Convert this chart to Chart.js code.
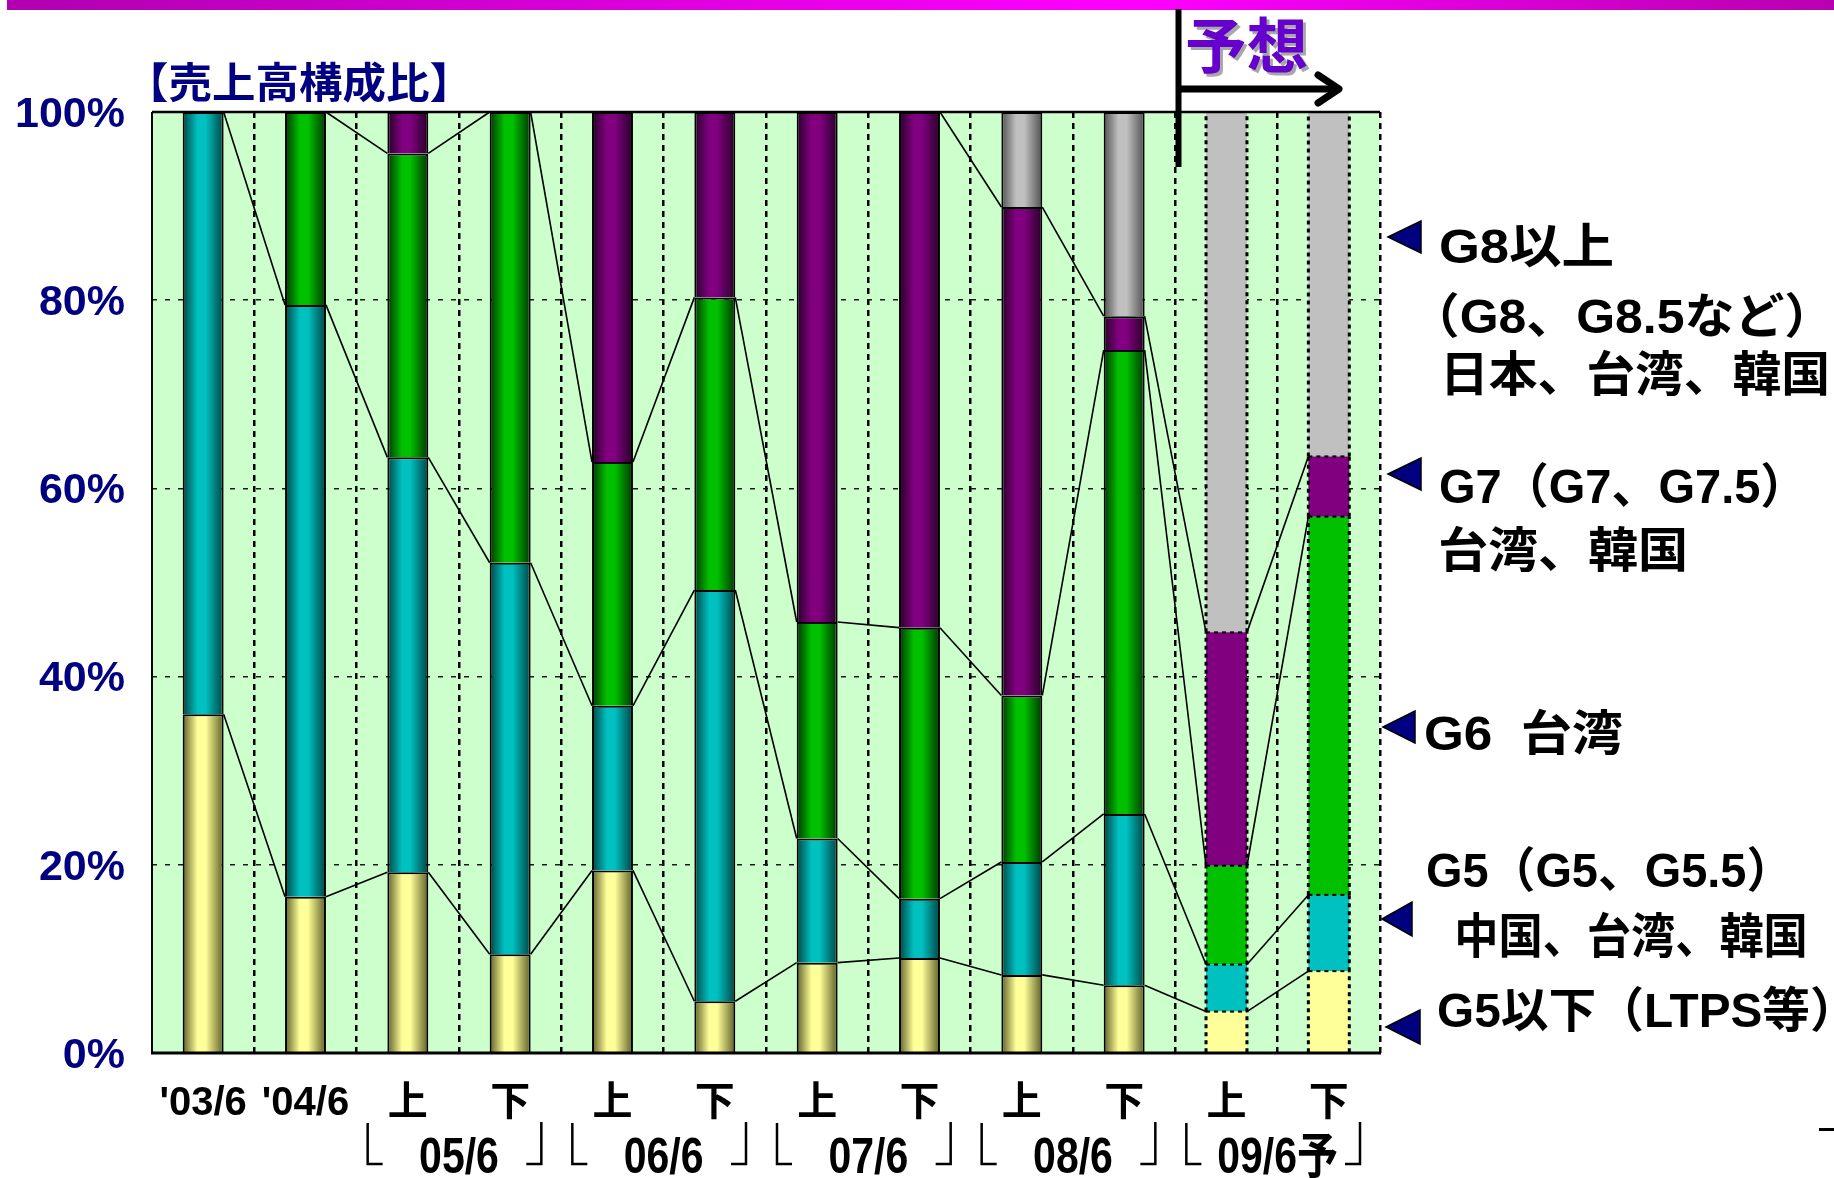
<!DOCTYPE html>
<html>
<head>
<meta charset="utf-8">
<script src="https://cdn.jsdelivr.net/npm/chart.js@4.4.1/dist/chart.umd.min.js"></script>
<style>
  html, body { margin: 0; padding: 0; background: #ffffff; }
  canvas { display: block; }
</style>
</head>
<body>
<canvas id="c" width="1834" height="1178"></canvas>
<script>
// Half-year periods and fiscal-year groups
const periods = ["'03/6", "'04/6", "上", "下", "上", "下", "上", "下", "上", "下", "上", "下"];
const fiscalGroups = ["05/6", "06/6", "07/6", "08/6", "09/6予"];

// Sales share (%) by panel generation, bottom to top of each stack
const g5Below = [36.0, 16.6, 19.2, 10.5, 19.4, 5.5, 9.6, 10.1, 8.3, 7.2, 4.4, 8.7];
const g5      = [64.0, 62.9, 44.1, 41.6, 17.5, 43.7, 13.2, 6.3, 12.0, 18.2, 5.0, 8.1];
const g6      = [0, 20.5, 32.3, 47.9, 25.9, 31.1, 23.0, 28.8, 17.7, 49.3, 10.5, 40.2];
const g7      = [0, 0, 4.4, 0, 37.2, 19.7, 54.2, 54.8, 51.9, 3.6, 24.8, 6.4];
const g8Up    = [0, 0, 0, 0, 0, 0, 0, 0, 10.1, 21.7, 55.3, 36.6];

const yTickValues = [0, 20, 40, 60, 80, 100];
const forecastFrom = 10;   // first forecast period (09/6 上)

const seriesNames = ["G5以下", "G5", "G6", "G7", "G8以上"];
const seriesData = [g5Below, g5, g6, g7, g8Up];
const bright = ["#ffff99", "#00c0c0", "#00c000", "#800080", "#c0c0c0"];
const shade  = ["#5e5e26", "#004444", "#003600", "#260026", "#505050"];

const FONT = "'Liberation Sans', 'Noto Sans CJK JP', sans-serif";
const BAR_PCT = 0.4;

// Cumulative top of each series in each period
const cumulative = seriesData.map((_, s) =>
  periods.map((__, i) => seriesData.slice(0, s + 1).reduce((a, arr) => a + arr[i], 0)));

// Draws text so that its ink starts at `left`, is centred on `cy`,
// and (optionally) spans `width` pixels horizontally.
function inkText(ctx, text, left, cy, font, color, width) {
  ctx.save();
  ctx.font = font;
  ctx.fillStyle = color;
  ctx.textAlign = 'left';
  ctx.textBaseline = 'alphabetic';
  const m = ctx.measureText(text);
  const ink = m.actualBoundingBoxLeft + m.actualBoundingBoxRight;
  let sx = 1;
  if (width) sx = Math.max(0.85, Math.min(1.15, width / ink));
  const y = cy + (m.actualBoundingBoxAscent - m.actualBoundingBoxDescent) / 2;
  ctx.translate(left, y);
  ctx.scale(sx, 1);
  ctx.fillText(text, m.actualBoundingBoxLeft, 0);
  ctx.restore();
}

const notes = [
  { text: "G8以上", x: 1440, y: 245, w: 172 },
  { text: "（G8、G8.5など）", x: 1442, y: 315, w: 360 },
  { text: "日本、台湾、韓国", x: 1447, y: 373, w: 380 },
  { text: "G7（G7、G7.5）", x: 1440, y: 485, w: 337 },
  { text: "台湾、韓国", x: 1440, y: 549, w: 245 },
  { text: "G6  台湾", x: 1425, y: 732, w: 197 },
  { text: "G5（G5、G5.5）", x: 1427, y: 869, w: 336 },
  { text: "中国、台湾、韓国", x: 1458, y: 935, w: 347 },
  { text: "G5以下（LTPS等）", x: 1438, y: 1009, w: 389 }
];
const pointers = [
  { tip: 1388, back: 1421, y: 237, h: 16 },
  { tip: 1388, back: 1421, y: 474, h: 16 },
  { tip: 1383, back: 1415, y: 727, h: 16 },
  { tip: 1382, back: 1412, y: 919, h: 17 },
  { tip: 1386, back: 1420, y: 1027, h: 17 }
];

const decorations = {
  id: 'decorations',
  beforeDraw(chart) {
    const { ctx, chartArea: a } = chart;
    ctx.save();
    ctx.fillStyle = '#ffffff';
    ctx.fillRect(0, 0, chart.width, chart.height);
    ctx.fillStyle = '#ccffcc';
    ctx.fillRect(a.left, a.top, a.right - a.left, a.bottom - a.top);
    ctx.restore();
  },
  beforeDatasetsDraw(chart) {
    // cylinder-like horizontal shading on the actual-result columns
    const { ctx } = chart;
    seriesData.forEach((_, s) => {
      chart.getDatasetMeta(s).data.forEach((el, i) => {
        if (i >= forecastFrom) return;
        const g = ctx.createLinearGradient(el.x - el.width / 2, 0, el.x + el.width / 2, 0);
        g.addColorStop(0, shade[s]);
        g.addColorStop(0.36, bright[s]);
        g.addColorStop(0.56, bright[s]);
        g.addColorStop(1, shade[s]);
        el.options = Object.assign({}, el.options, { backgroundColor: g });
      });
    });
  },
  afterDatasetsDraw(chart) {
    const { ctx } = chart;
    const ys = chart.scales.y;
    ctx.save();
    // series lines between neighbouring columns
    ctx.strokeStyle = '#000';
    ctx.lineWidth = 1.6;
    seriesData.forEach((_, s) => {
      const meta = chart.getDatasetMeta(s);
      for (let i = 0; i < periods.length - 1; i++) {
        const a = meta.data[i], b = meta.data[i + 1];
        ctx.beginPath();
        ctx.moveTo(a.x + a.width / 2, ys.getPixelForValue(cumulative[s][i]));
        ctx.lineTo(b.x - b.width / 2, ys.getPixelForValue(cumulative[s][i + 1]));
        ctx.stroke();
      }
    });
    // dashed outlines on forecast columns
    seriesData.forEach((arr, s) => {
      const meta = chart.getDatasetMeta(s);
      for (let i = forecastFrom; i < periods.length; i++) {
        if (!(arr[i] > 0)) continue;
        const el = meta.data[i];
        const l = el.x - el.width / 2, r = el.x + el.width / 2;
        ctx.setLineDash([4, 4]);
        ctx.lineWidth = 3;
        ctx.beginPath();
        ctx.moveTo(l, el.base); ctx.lineTo(l, el.y);
        ctx.moveTo(r, el.base); ctx.lineTo(r, el.y);
        ctx.stroke();
        ctx.lineWidth = 2;
        ctx.beginPath();
        ctx.moveTo(l, el.y); ctx.lineTo(r, el.y);
        ctx.stroke();
      }
    });
    ctx.restore();
  },
  afterDraw(chart) {
    const { ctx, chartArea: a } = chart;
    const xs = chart.scales.x;
    ctx.save();

    // plot frame
    ctx.strokeStyle = '#000';
    ctx.lineWidth = 2.5;
    ctx.beginPath(); ctx.moveTo(a.left, a.top); ctx.lineTo(a.right, a.top); ctx.stroke();
    ctx.lineWidth = 2;
    ctx.beginPath(); ctx.moveTo(a.left, a.top); ctx.lineTo(a.left, a.bottom); ctx.stroke();
    ctx.lineWidth = 3;
    ctx.beginPath(); ctx.moveTo(a.left - 1, a.bottom); ctx.lineTo(a.right + 1, a.bottom); ctx.stroke();

    // header band
    const band = ctx.createLinearGradient(7, 0, chart.width, 0);
    band.addColorStop(0, '#b000b0');
    band.addColorStop(0.62, '#ff00ff');
    band.addColorStop(1, '#b800b0');
    ctx.fillStyle = band;
    ctx.fillRect(7, 0, chart.width - 7, 10);

    // chart caption
    inkText(ctx, '【売上高構成比】', 153, 82, `bold 42px ${FONT}`, '#000080', 292);

    // forecast marker
    ctx.save();
    ctx.shadowColor = '#a8a8a8';
    ctx.shadowOffsetX = 3;
    ctx.shadowOffsetY = 3;
    inkText(ctx, '予想', 1187, 45, `bold 60px 'Noto Sans CJK JP', sans-serif`, '#6600cc', 120);
    ctx.restore();
    ctx.strokeStyle = '#000';
    ctx.lineWidth = 6;
    ctx.beginPath(); ctx.moveTo(1178.5, 9); ctx.lineTo(1178.5, 167); ctx.stroke();
    ctx.lineWidth = 7;
    ctx.beginPath(); ctx.moveTo(1178, 89); ctx.lineTo(1336, 89); ctx.stroke();
    ctx.lineCap = 'round'; ctx.lineJoin = 'round';
    ctx.beginPath(); ctx.moveTo(1318, 75); ctx.lineTo(1339, 89); ctx.lineTo(1318, 103); ctx.stroke();
    ctx.lineCap = 'butt'; ctx.lineJoin = 'miter';

    // generation pointers and notes
    pointers.forEach(p => {
      ctx.beginPath();
      ctx.moveTo(p.tip, p.y);
      ctx.lineTo(p.back, p.y - p.h);
      ctx.lineTo(p.back, p.y + p.h);
      ctx.closePath();
      ctx.fillStyle = '#000080';
      ctx.fill();
      ctx.lineWidth = 1.5;
      ctx.strokeStyle = '#000';
      ctx.stroke();
    });
    notes.forEach(n => inkText(ctx, n.text, n.x, n.y, `bold 48px ${FONT}`, '#000', n.w));

    // fiscal-year group labels with corner brackets
    const catW = xs.width / periods.length;
    fiscalGroups.forEach((label, g) => {
      const i0 = 2 * g + 2, i1 = 2 * g + 3;
      const left = xs.getPixelForValue(i0) - catW / 2;
      const right = xs.getPixelForValue(i1) + catW / 2;
      const cx = (left + right) / 2;
      ctx.save();
      ctx.translate(cx, 1173);
      ctx.scale(1, 1.2);
      ctx.font = `bold 41px ${FONT}`;
      ctx.fillStyle = '#000';
      ctx.textAlign = 'center';
      ctx.textBaseline = 'alphabetic';
      ctx.fillText(label, 0, 0);
      ctx.restore();
      ctx.strokeStyle = '#000';
      ctx.lineWidth = 2.5;
      ctx.beginPath();
      ctx.moveTo(left + 11, 1123); ctx.lineTo(left + 11, 1164); ctx.lineTo(left + 26, 1164);
      ctx.stroke();
      ctx.beginPath();
      ctx.moveTo(right - 35, 1164); ctx.lineTo(right - 20, 1164); ctx.lineTo(right - 20, 1122);
      ctx.stroke();
    });

    ctx.fillStyle = '#000';
    ctx.fillRect(1819, 1128, 15, 3);
    ctx.restore();
  }
};

new Chart(document.getElementById('c'), {
  type: 'bar',
  data: {
    labels: periods,
    datasets: seriesData.map((arr, s) => ({
      label: seriesNames[s],
      data: arr,
      stack: 'share',
      backgroundColor: bright[s],
      borderColor: '#000',
      borderWidth: c => (c.dataIndex >= forecastFrom ? 0 : 2),
      borderSkipped: 'start',
      barPercentage: BAR_PCT,
      categoryPercentage: 1
    }))
  },
  options: {
    responsive: false,
    animation: false,
    devicePixelRatio: 1,
    layout: { padding: { left: 0, top: 112, right: 454, bottom: 0 } },
    plugins: { legend: { display: false }, tooltip: { enabled: false } },
    scales: {
      x: {
        stacked: true,
        offset: true,
        grid: {
          offset: true,
          drawTicks: false,
          lineWidth: 2.5,
          color: c => (c.index === 0 ? 'rgba(0,0,0,0)' : '#000')
        },
        border: { display: false, dash: [6, 5] },
        ticks: {
          color: '#000',
          font: { family: FONT, size: 40, weight: 'bold' },
          padding: 27,
          maxRotation: 0,
          autoSkip: false
        },
        afterFit: s => { s.height = 125; }
      },
      y: {
        stacked: true,
        min: 0,
        max: 100,
        afterBuildTicks: s => { s.ticks = yTickValues.map(v => ({ value: v })); },
        grid: {
          drawTicks: false,
          lineWidth: 1.5,
          color: c => (c.tick && (c.tick.value === 0 || c.tick.value === 100) ? 'rgba(0,0,0,0)' : '#1a1a1a')
        },
        border: { display: false, dash: [5, 8] },
        ticks: {
          color: '#000080',
          font: { family: FONT, size: 43, weight: 'bold' },
          padding: 27,
          labelOffset: 3,
          callback: v => v + '%'
        },
        afterFit: s => { s.width = 152; }
      }
    }
  },
  plugins: [decorations]
});
</script>
</body>
</html>
